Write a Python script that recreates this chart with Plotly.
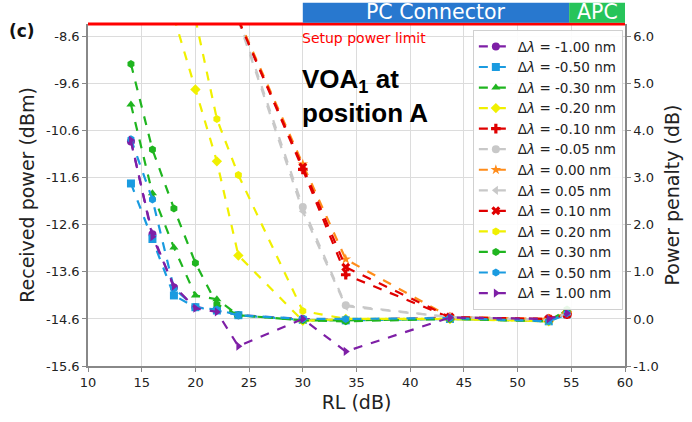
import plotly.graph_objects as go

rl = [14, 16, 18, 20, 22, 24, 30, 34, 43.7, 52.9, 54.6]

labels = ["-1.00", "-0.50", "-0.30", "-0.20", "-0.10", "-0.05", "0.00",
          "0.05", "0.10", "0.20", "0.30", "0.50", "1.00"]

p_m100 = [-10.83, -12.80, -13.93, -14.35, -14.40, -14.52, -14.60, -14.62, -14.57, -14.62, -14.50]
p_m050 = [-11.72, -12.90, -14.10, -14.35, -14.42, -14.52, -14.62, -14.63, -14.60, -14.65, -14.50]
p_m030 = [-10.04, -11.93, -13.08, -14.10, -14.18, -14.52, -14.63, -14.63, -14.60, -14.63, -14.42]
p_m020 = [None, None, -8.18, -9.72, -11.25, -13.25, -14.64, -14.60, -14.60, -14.65, -14.45]
p_m010 = [None, None, None, None, None, -8.25, -11.42, -13.66, -14.57, -14.60, -14.50]
p_m005 = [None, None, None, None, None, -8.20, -12.22, -14.31, -14.56, -14.62, -14.48]
p_000 = [None, None, None, None, None, -8.22, -11.31, -13.33, -14.56, -14.60, -14.48]
p_005 = [None, None, None, None, None, -8.25, -12.31, -14.33, -14.56, -14.62, -14.48]
p_010 = [None, None, None, None, None, -8.25, -11.37, -13.50, -14.56, -14.60, -14.50]
p_020 = [None, None, None, -8.22, -10.35, -11.54, -14.43, -14.60, -14.60, -14.65, -14.45]
p_030 = [-9.18, -11.00, -12.25, -13.41, -14.29, -14.52, -14.63, -14.65, -14.60, -14.65, -14.40]
p_050 = [-10.78, -12.06, -13.95, -14.35, -14.40, -14.52, -14.60, -14.60, -14.58, -14.65, -14.48]
p_100 = [-10.80, -12.85, -13.90, -14.37, -14.45, -15.18, -14.60, -15.29, -14.57, -14.60, -14.48]

series = [p_m100, p_m050, p_m030, p_m020, p_m010, p_m005, p_000,
          p_005, p_010, p_020, p_030, p_050, p_100]

colors = ["#7e1fa6", "#1a9be0", "#1fb51f", "#f0f000", "#e00000", "#c8c8c8", "#ff8c1a",
          "#c8c8c8", "#e00000", "#f0f000", "#1fb51f", "#1a9be0", "#7e1fa6"]
symbols = ["circle", "square", "triangle-up", "diamond", "cross", "circle", "star",
           "triangle-left", "x", "hexagon", "hexagon", "hexagon", "triangle-right"]

y_left_ticks = [-15.6, -14.6, -13.6, -12.6, -11.6, -10.6, -9.6, -8.6]
y_right_ticks = [-1.0, 0.0, 1.0, 2.0, 3.0, 4.0, 5.0, 6.0]
x_ticks = [10, 15, 20, 25, 30, 35, 40, 45, 50, 55, 60]

y_top = -8.33
offset = 14.6

fig = go.Figure()
for lab, ys, c, s in zip(labels, series, colors, symbols):
    fig.add_trace(go.Scatter(
        x=rl, y=ys, mode="lines+markers", name=f"Δ<i>λ</i> = {lab} nm",
        line=dict(color=c, width=2.2, dash="dash"),
        marker=dict(color=c, symbol=s, size=8, line=dict(width=0)),
        connectgaps=False,
    ))

# invisible helper trace so the right axis is rendered
fig.add_trace(go.Scatter(x=[rl[0]], y=[p_m100[0] + offset], yaxis="y2",
                         mode="markers", marker=dict(opacity=0), showlegend=False,
                         hoverinfo="skip"))

tickfont = dict(family="DejaVu Sans", size=13, color="#222222")
fig.update_layout(
    width=692, height=422,
    margin=dict(l=88, r=65, t=24, b=49),
    paper_bgcolor="white", plot_bgcolor="white",
    font=dict(family="DejaVu Sans", color="#222222"),
    xaxis=dict(range=[10, 60], tickvals=x_ticks, ticktext=[str(v) for v in x_ticks],
               showgrid=True, gridcolor="#dcdcdc", gridwidth=1,
               showline=True, linecolor="#888888", linewidth=1.5,
               ticks="outside", ticklen=4, tickcolor="#888888",
               tickfont=tickfont, zeroline=False,
               title=dict(text="RL (dB)", font=dict(size=19, family="DejaVu Sans"), standoff=6)),
    yaxis=dict(range=[-15.6, y_top], tickvals=y_left_ticks,
               ticktext=[f"{v:.1f}" for v in y_left_ticks],
               showgrid=True, gridcolor="#dcdcdc", gridwidth=1,
               showline=True, linecolor="#888888", linewidth=1.5,
               ticks="outside", ticklen=4, tickcolor="#888888",
               tickfont=tickfont, zeroline=False,
               title=dict(text="Received power (dBm)", font=dict(size=19, family="DejaVu Sans"), standoff=6)),
    yaxis2=dict(range=[-15.6 + offset, y_top + offset], overlaying="y", side="right",
                tickvals=y_right_ticks, ticktext=[f"{v:.1f}" for v in y_right_ticks],
                showgrid=False, showline=True, linecolor="#888888", linewidth=1.5,
                ticks="outside", ticklen=4, tickcolor="#888888",
                tickfont=tickfont, zeroline=False,
                title=dict(text="Power penalty (dB)", font=dict(size=19, family="DejaVu Sans"), standoff=8)),
    legend=dict(x=0.996, y=0.982, xanchor="right", yanchor="top",
                bgcolor="rgba(255,255,255,0.9)", bordercolor="#d0d0d0", borderwidth=1,
                font=dict(size=13.5, family="DejaVu Sans", color="#222222"),
                tracegroupgap=0, itemwidth=34),
    showlegend=True,
)

# Setup power limit line
fig.add_shape(type="line", xref="paper", yref="y domain", x0=0, x1=1, y0=1, y1=1,
              line=dict(color="#ff0000", width=3), layer="above")
fig.add_annotation(x=29.7, y=-8.62, xref="x", yref="y", text="Setup power limit",
                   showarrow=False, xanchor="left", yanchor="middle",
                   font=dict(color="#ff0000", size=14, family="DejaVu Sans"))

# Connector banners
fig.add_shape(type="rect", xref="x", yref="paper", x0=30, x1=54.8, y0=1.004, y1=1.062,
              fillcolor="#2878cf", line=dict(width=0), layer="above")
fig.add_shape(type="rect", xref="x", yref="paper", x0=54.8, x1=60, y0=1.004, y1=1.062,
              fillcolor="#27c45a", line=dict(width=0), layer="above")
fig.add_annotation(x=42.4, y=1.034, xref="x", yref="paper", text="PC Connector",
                   showarrow=False, xanchor="center", yanchor="middle",
                   font=dict(color="white", size=20.5, family="DejaVu Sans"))
fig.add_annotation(x=57.4, y=1.034, xref="x", yref="paper", text="APC",
                   showarrow=False, xanchor="center", yanchor="middle",
                   font=dict(color="white", size=20.5, family="DejaVu Sans"))

fig.add_annotation(x=-0.15, y=0.98, xref="paper", yref="paper", xanchor="left", yanchor="middle",
                   text="<b>(c)</b>", showarrow=False, font=dict(size=17, family="DejaVu Sans", color="#111111"))
fig.add_annotation(x=29.7, y=-9.85, xref="x", yref="y", xanchor="left", yanchor="middle",
                   text="<b>VOA<sub>1</sub> at<br>position A</b>", showarrow=False, align="left",
                   font=dict(size=26, family="Liberation Sans", color="#000000"))

fig.write_html("out.html", config={"displayModeBar": False},
               post_script="document.body.style.margin='0px';")
